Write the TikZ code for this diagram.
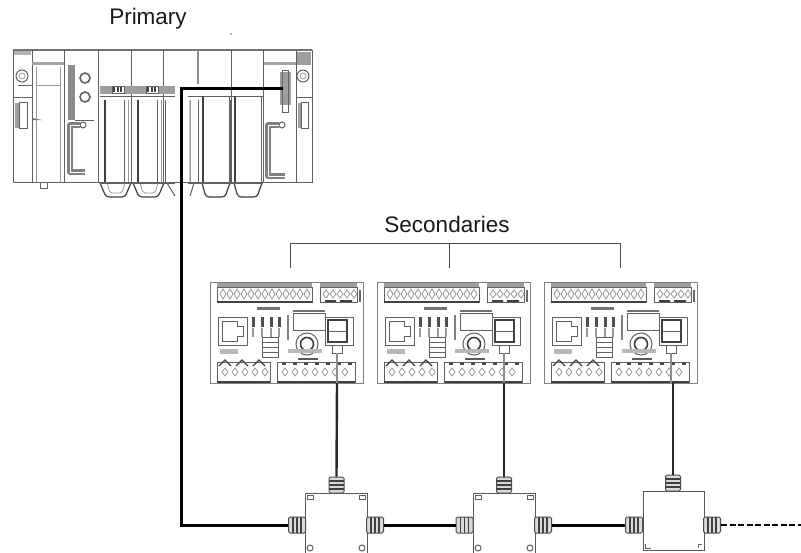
\documentclass[tikz,border=0pt]{standalone}
\usepackage{fontspec}
\setmainfont{Liberation Sans}
\tikzset{
  x=1pt,y=-1pt,
  part/.style={draw=black!62,line width=1pt},
  partb/.style={draw=black!75,line width=1.2pt},
  faint/.style={draw=black!40,line width=0.8pt},
  handle/.style={draw=black!50,line width=2.6pt,double=white,double distance=0.9pt,line join=round},
  cable/.style={draw=black,line width=3pt,line join=miter},
  dropcable/.style={draw=black!85,line width=2.4pt},
  label/.style={font=\fontsize{22.5}{26}\selectfont,text=black!90,inner sep=0pt},
  bracket/.style={draw=black!70,line width=0.9pt},
  box/.style={draw=black!65,line width=1.2pt,fill=white,inner sep=0pt,anchor=north west},
  glandh/.style={draw=black!70,fill=black!15,line width=1pt,minimum width=17pt,minimum height=16pt,inner sep=0pt,rounded corners=1.5pt,
    path picture={\foreach \q in {-4,0,4}{\draw[black!75,line width=1.2pt] ([xshift=\q pt]path picture bounding box.north) -- ([xshift=\q pt]path picture bounding box.south);}}},
  glandv/.style={draw=black!70,fill=black!15,line width=1pt,minimum width=15pt,minimum height=16pt,inner sep=0pt,rounded corners=1.5pt,
    path picture={\foreach \q in {-4,0,4}{\draw[black!75,line width=1.2pt] ([yshift=\q pt]path picture bounding box.west) -- ([yshift=\q pt]path picture bounding box.east);}}},
  pics/secmodule/.style={code={
    \draw[faint,draw=black!50,fill=white] (0,0) rectangle (153,101);
    % top terminals
    \fill[black!38] (7,1) rectangle (102,5);
    \draw[part] (7,5) rectangle (102,20);
    \foreach \q in {13,20,...,99}{\draw[faint] (\q,7) -- (\q+3,12) -- (\q,17) -- (\q-3,12) -- cycle;}
    \draw[partb] (7,20) -- (102,20);
    \fill[black!38] (110,1) rectangle (147,5);
    \draw[part] (110,5) rectangle (147,20);
    \foreach \q in {116,123,...,144}{\draw[faint] (\q,8) -- (\q+3,12) -- (\q,16) -- (\q-3,12) -- cycle;}
    \fill[black!75] (115,18) rectangle (126,20) (130,18) rectangle (142,20);
    \fill[black!60] (149,8) rectangle (151,20);
    \fill[black!55] (47,25) rectangle (70,28);
    % RJ45
    \draw[part] (8,35) rectangle (37,63);
    \draw[part] (12,39) -- (27,39) -- (27,44) -- (33,44) -- (33,54) -- (27,54) -- (27,59) -- (12,59) -- cycle;
    % LEDs
    \foreach \q in {43,52,61,69}{\fill[black!70] (\q-1.5,35) rectangle (\q+1.5,45);\fill[black!40] (\q-1,46) rectangle (\q+1,55);}
    \fill[black!50] (77,33) rectangle (79,58);
    % display
    \fill[black!55] (83,28) rectangle (115,30);
    \draw[part] (83,31) rectangle (115,48);
    % buttons
    \draw[part] (52,55) rectangle (68,75);
    \foreach \q in {60,65,70}{\draw[part] (52,\q) -- (68,\q);}
    % knob
    \draw[part] (97,62) circle (11);
    \draw[partb,line width=1.6pt] (97,62) circle (6.5);
    \fill[black!65] (88,76) rectangle (108,78);
    % right socket
    \draw[part] (115,35) rectangle (143,63);
    \draw[partb] (118,38) rectangle (137,60);
    \draw[part] (118,49) -- (137,49);
    \fill[black!28] (10,67) rectangle (28,72);
    \fill[black!28] (78,67) rectangle (112,71);
    % bottom terminals
    \draw[part] (7,80) rectangle (60,100);
    \foreach \q in {15,32,49}{\draw[partb] (\q-6,84) -- (\q,78) -- (\q+6,84);}
    \draw[part] (67,80) rectangle (145,100);
    \foreach \q in {74,85,...,140}{\fill[black!70] (\q-2,80) rectangle (\q+2,83);}
    \foreach \q in {15,25,...,55,75,85,...,140}{\draw[faint] (\q,86) -- (\q+3,90) -- (\q,94) -- (\q-3,90) -- cycle;}
    \draw[partb] (7,100) -- (60,100) (67,100) -- (145,100);
    % plug
    \draw[part,fill=white] (122,63) rectangle (132,71);
    \draw[black!45,line width=2pt] (127,71) -- (127,101);
  }},
}
\begin{document}
\begin{tikzpicture}
\useasboundingbox (0,0) rectangle (801,552);
\clip (0,0) rectangle (801,552);
\fill[white] (0,0) rectangle (801,552);

% Primary rack
\node[label] (primary) at (148,19) {Primary};
\fill[black!55] (231,34) circle (0.9);
\draw[draw=black!55,line width=1.8pt] (13,50) -- (312,50);
\draw[part] (13,50) -- (13,182) -- (312,182) -- (312,50);
\foreach \q in {32,64,98,131,163,231,263,296}{\draw[part] (\q,50) -- (\q,182);}
\draw[draw=black!45,line width=1.6pt] (198,50) -- (198,84);
\fill[white] (99,84) rectangle (175,182);
\draw[part] (98,84) -- (98,182) (131,84) -- (131,182) (163,84) -- (163,182);
% left end plate
\fill[black!30] (14,51) rectangle (31,55);
\draw[part] (22,76) circle (6);\draw[faint] (22,76) circle (3);
\draw[part] (18,85) -- (32,85) (13,97) -- (32,97);
\fill[black!38] (15,103) rectangle (19,128);
\draw[part] (19,102) rectangle (27,128);
\fill[black!60] (32,118) -- (42,120) -- (32,120) -- cycle;
% power module
\fill[black!35] (32,62) rectangle (64,65);
\draw[faint] (36,67) -- (36,182) (60,67) -- (60,182);
\draw[faint] (36,85) -- (60,85);
\draw[part] (40,182) rectangle (47,188);
% CPU module
\fill[black!45] (68,65) rectangle (75,120);
\draw[part] (75,120) -- (94,120);
\draw[part,line width=1.6pt] (85,78) circle (5);
\draw[part,line width=1.6pt] (85,97) circle (5);
\draw[part] (83,125) circle (3);
\draw[handle] (80,125) -- (70,125) -- (70,172) -- (85,172);
% cards 1,2
\fill[black!38] (100,86) rectangle (175,94);
\draw[part] (100,96) -- (175,96);
\foreach \q in {116,150}{\draw[part,fill=white] (\q-4,86) rectangle (\q+8,93);\draw[partb] (\q-2,87) -- (\q-2,92) (\q+2,87) -- (\q+2,92) (\q+5,87) -- (\q+5,92);}
\foreach \q in {100,133}{
  \draw[partb] (\q+5,100) -- (\q+5,182);
  \draw[part] (\q+24,100) -- (\q+24,182);
  \draw[faint] (\q+28,100) -- (\q+28,182);
  \draw[partb,rounded corners=3pt] (\q+0,183) -- (\q+6,197) -- (\q+25,197) -- (\q+31,183);
  \draw[faint,rounded corners=2pt] (\q+7,183) -- (\q+10,193) -- (\q+22,193) -- (\q+25,183);
}
\draw[part] (165,100) -- (165,182);
\draw[part] (167,183) -- (175,196);
\draw[part] (100,183) -- (175,183);
% cards 3,4
\draw[part] (188,96) -- (263,96);
\foreach \q in {203,235}{
  \draw[partb] (\q,96) -- (\q,182);
  \draw[part] (\q-5,100) -- (\q-5,182);
  \draw[part] (\q+26,96) -- (\q+26,182);
  \draw[partb,rounded corners=3pt] (\q-1,183) -- (\q+3,197) -- (\q+22,197) -- (\q+27,183);
}
\draw[part] (190,100) -- (190,182) (194,183) -- (190,196);
\draw[part] (188,183) -- (263,183);
% right module & end plate
\fill[black!35] (264,62) rectangle (296,65);
\fill[black!38] (280,72) rectangle (291,105);
\draw[part] (282,70) -- (288,70) -- (288,112) -- (282,112) -- cycle;
\draw[part] (282,125) circle (3);
\draw[handle] (279,125) -- (268,125) -- (268,176) -- (285,176);
\fill[black!38] (297,52) rectangle (311,65);
\draw[part] (303,76) circle (6);\draw[faint] (303,76) circle (3);
\draw[part] (296,97) -- (312,97);
\fill[black!38] (298,103) rectangle (302,128);
\draw[part] (301,102) rectangle (308,128);
\coordinate (port) at (283,88.5);

% Secondaries label and bracket
\node[label] (secondaries) at (447,224) {Secondaries};
\coordinate (brL) at (290,243);
\coordinate (brM) at (449,243);
\coordinate (brR) at (620,243);
\draw[bracket] (290,268) -- (brL) -- (brR) -- (620,268);
\draw[bracket] (brM) -- (449,268);

% Modules
\pic at (210,282) {secmodule};
\pic at (377,282) {secmodule};
\pic at (544,282) {secmodule};
\coordinate (m1) at (337,383);
\coordinate (m2) at (504,383);
\coordinate (m3) at (673,383);

% Junction boxes
\node[box,minimum width=62pt,minimum height=70pt] (j1) at (305,493) {};
\node[box,minimum width=62pt,minimum height=70pt] (j2) at (473,493) {};
\node[box,minimum width=61pt,minimum height=59pt] (j3) at (643,491) {};
\foreach \a/\b in {305/493,473/493}{
  \draw[part] (\a+2,\b+2) rectangle (\a+8,\b+6) (\a+54,\b+2) rectangle (\a+60,\b+6);
  \draw[part] (\a+5,\b+55) circle (3) (\a+57,\b+55) circle (3);
}
\draw[part] (645,544) -- (645,548) -- (651,548) (702,544) -- (698,544) -- (698,548);

% Glands
\node[glandh] (g1l) at (297,525) {};
\node[glandh] (g1r) at (375,525) {};
\node[glandh] (g2l) at (464.5,525) {};
\node[glandh] (g2r) at (543,525) {};
\node[glandh] (g3l) at (634,525) {};
\node[glandh] (g3r) at (712,525) {};
\node[glandv] (g1t) at (336.5,485) {};
\node[glandv] (g2t) at (504,485) {};
\node[glandv] (g3t) at (673,483) {};
\coordinate (end) at (801,525);

% Cables
\draw[cable] (port) -| (181,525) -- (g1l.west);
\draw[cable] (g1r.east) -- (g2l.west);
\draw[cable] (g2r.east) -- (g3l.west);
\draw[cable,line width=2.2pt,dash pattern=on 6pt off 2.5pt] (g3r.east) -- (end);
\draw[dropcable] (m1) -- (g1t.north);
\draw[dropcable] (m2) -- (g2t.north);
\draw[dropcable] (m3) -- (g3t.north);
\end{tikzpicture}
\end{document}
